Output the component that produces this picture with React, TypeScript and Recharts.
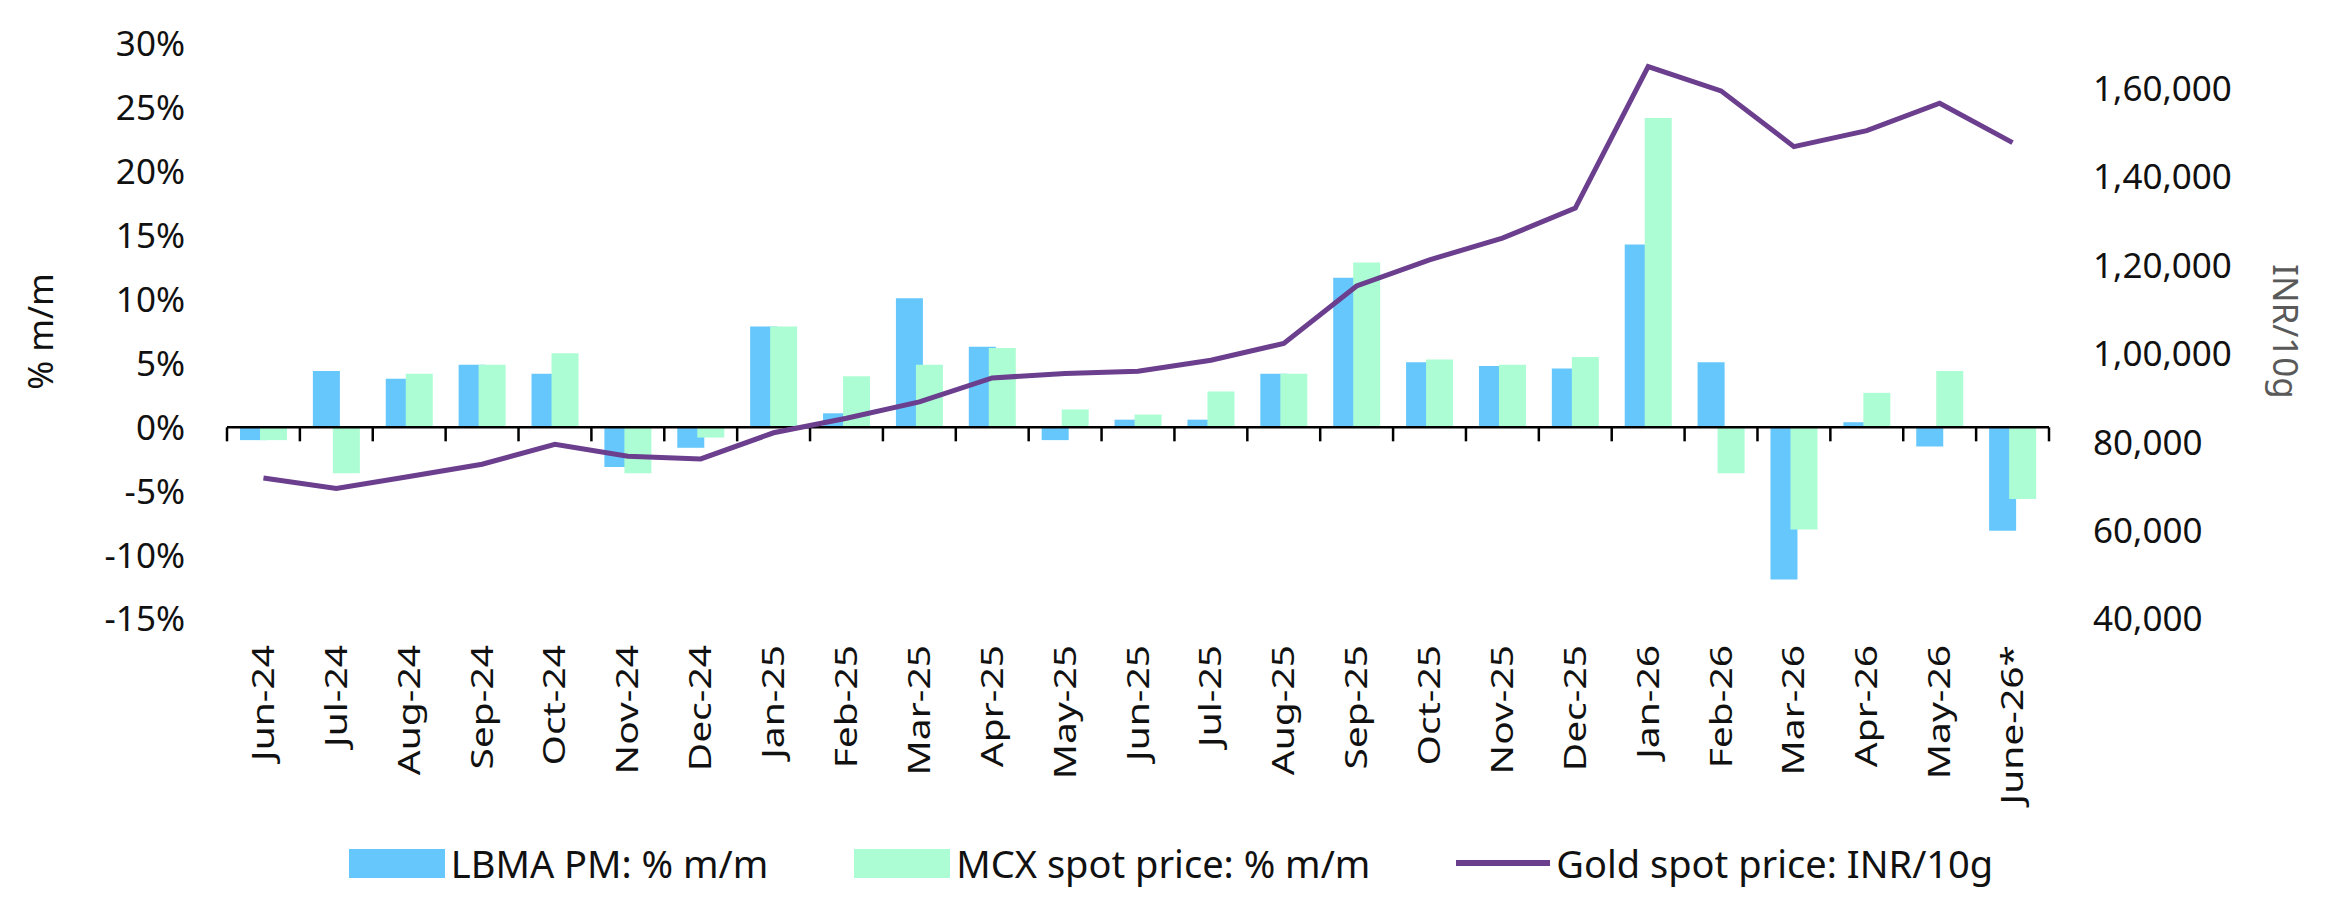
import React from 'react';
import { Bar, ComposedChart, Legend, Line, ReferenceLine, XAxis, YAxis } from 'recharts';

const months = [
  'Jun-24', 'Jul-24', 'Aug-24', 'Sep-24', 'Oct-24', 'Nov-24', 'Dec-24',
  'Jan-25', 'Feb-25', 'Mar-25', 'Apr-25', 'May-25', 'Jun-25', 'Jul-25',
  'Aug-25', 'Sep-25', 'Oct-25', 'Nov-25', 'Dec-25', 'Jan-26', 'Feb-26',
  'Mar-26', 'Apr-26', 'May-26', 'June-26*'
];

// % m/m
const lbmaPm = [-1.0, 4.4, 3.8, 4.9, 4.2, -3.1, -1.6, 7.9, 1.1, 10.1, 6.3, -1.0, 0.6, 0.6, 4.2, 11.7, 5.1, 4.8, 4.6, 14.3, 5.1, -11.9, 0.4, -1.5, -8.1];
const mcxSpot = [-1.0, -3.6, 4.2, 4.9, 5.8, -3.6, -0.8, 7.9, 4.0, 4.9, 6.2, 1.4, 1.0, 2.8, 4.2, 12.9, 5.3, 4.9, 5.5, 24.2, -3.6, -8.0, 2.7, 4.4, -5.6];

// INR/10g
const goldInr = [71900, 69500, 72200, 75000, 79500, 76800, 76200, 82100, 85400, 89100, 94500, 95500, 96000, 98500, 102300, 115300, 121200, 126100, 132900, 164900, 159400, 146800, 150400, 156600, 147700];

const pctTicks = [-15, -10, -5, 0, 5, 10, 15, 20, 25, 30];
const inrTicks = [40000, 60000, 80000, 100000, 120000, 140000, 160000];

const data = months.map((month, i) => ({
  month,
  lbma: lbmaPm[i],
  mcx: mcxSpot[i],
  gold: goldInr[i]
}));

const FONT = '"Noto Sans", "Open Sans", sans-serif';
const BLUE = '#66C7FD';
const MINT = '#ACFDD3';
const PURPLE = '#6B3E8E';

// indian digit grouping: 160000 -> 1,60,000
function fmtInr(v: number) {
  const s = String(v);
  if (s.length <= 3) return s;
  const last3 = s.slice(-3);
  let rest = s.slice(0, -3);
  const parts: string[] = [];
  while (rest.length > 2) {
    parts.unshift(rest.slice(-2));
    rest = rest.slice(0, -2);
  }
  if (rest) parts.unshift(rest);
  return parts.join(',') + ',' + last3;
}

// month labels are drawn rotated and a bit stretched along their length, like the source
const MonthTick = ({ x, y, payload }: any) => (
  <text
    transform={`translate(${x},${y}) rotate(-90) scale(1.3,1)`}
    textAnchor="end"
    dy="0.35em"
    fontSize={30}
    fontFamily={FONT}
    fill="#111"
  >
    {payload.value}
  </text>
);

// category axis drawn at 0% with tick marks between months
const ZeroAxis = (props: any) => {
  const { x1, x2, y1 } = props;
  const n = months.length;
  const step = (x2 - x1) / n;
  return (
    <g>
      <line x1={x1} x2={x2} y1={y1} y2={y1} stroke="#000" strokeWidth={2.5} />
      {Array.from({ length: n + 1 }, (_, i) => (
        <line key={i} x1={x1 + i * step} x2={x1 + i * step} y1={y1} y2={y1 + 14} stroke="#000" strokeWidth={2.5} />
      ))}
    </g>
  );
};

const legendItems = [
  { label: 'LBMA PM: % m/m', color: BLUE, kind: 'box' },
  { label: 'MCX spot price: % m/m', color: MINT, kind: 'box' },
  { label: 'Gold spot price: INR/10g', color: PURPLE, kind: 'line' }
];

const LegendContent = () => (
  <div
    style={{
      display: 'flex',
      justifyContent: 'center',
      alignItems: 'center',
      height: 40,
      fontFamily: FONT,
      fontSize: 38,
      color: '#111',
      gap: 86
    }}
  >
    {legendItems.map((item) => (
      <div key={item.label} style={{ display: 'flex', alignItems: 'center', gap: 6 }}>
        {item.kind === 'box' ? (
          <div style={{ width: 96, height: 29, background: item.color }} />
        ) : (
          <div style={{ width: 94, height: 6, background: item.color }} />
        )}
        <span style={{ whiteSpace: 'nowrap' }}>{item.label}</span>
      </div>
    ))}
  </div>
);

export default function App() {
  return (
    <div style={{ position: 'absolute', left: 0, top: 0, width: 2342, height: 918, background: '#fff' }}>
      <ComposedChart
        width={2342}
        height={918}
        data={data}
        margin={{ top: 44, right: 0, bottom: 0, left: 0 }}
        barGap={-7}
      >
        <XAxis
          dataKey="month"
          interval={0}
          axisLine={false}
          tickLine={false}
          tickSize={0}
          tickMargin={26}
          height={259}
          tick={<MonthTick />}
        />
        <YAxis
          yAxisId="pct"
          orientation="left"
          width={227}
          domain={[-15, 30]}
          ticks={pctTicks}
          allowDataOverflow
          axisLine={false}
          tickLine={false}
          tickSize={0}
          tickMargin={42}
          tickFormatter={(v: number) => `${v}%`}
          tick={{ fontSize: 35, fill: '#111', fontFamily: FONT }}
          label={{
            value: '% m/m',
            angle: -90,
            position: 'insideLeft',
            offset: 41,
            style: { textAnchor: 'middle', fontSize: 35, fill: '#111', fontFamily: FONT }
          }}
        />
        <YAxis
          yAxisId="inr"
          orientation="right"
          width={293}
          domain={[40000, 170000]}
          ticks={inrTicks}
          allowDataOverflow
          axisLine={false}
          tickLine={false}
          tickSize={0}
          tickMargin={44}
          tickFormatter={fmtInr}
          tick={{ fontSize: 35, fill: '#111', fontFamily: FONT }}
          label={{
            value: 'INR/10g',
            angle: 90,
            position: 'insideRight',
            offset: 57,
            style: { textAnchor: 'middle', fontSize: 35, fill: '#595959', fontFamily: FONT }
          }}
        />
        <Bar yAxisId="pct" dataKey="lbma" name="LBMA PM: % m/m" fill={BLUE} barSize={27} isAnimationActive={false} />
        <Bar yAxisId="pct" dataKey="mcx" name="MCX spot price: % m/m" fill={MINT} barSize={27} isAnimationActive={false} />
        <ReferenceLine yAxisId="pct" y={0} shape={ZeroAxis} />
        <Line
          yAxisId="inr"
          type="linear"
          dataKey="gold"
          name="Gold spot price: INR/10g"
          stroke={PURPLE}
          strokeWidth={5}
          dot={false}
          activeDot={false}
          isAnimationActive={false}
        />
        <Legend
          verticalAlign="bottom"
          content={<LegendContent />}
          wrapperStyle={{ top: 843, bottom: 'auto', left: 0, width: 2342 }}
        />
      </ComposedChart>
    </div>
  );
}
